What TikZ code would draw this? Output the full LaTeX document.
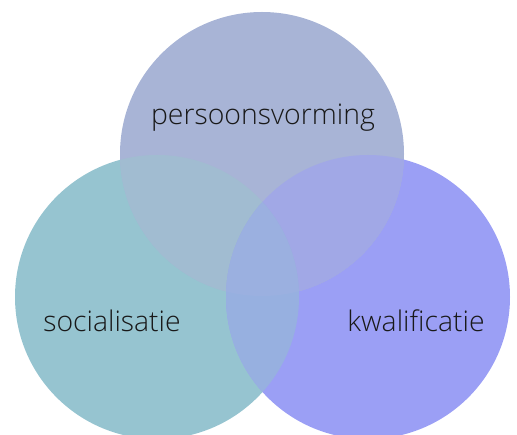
\documentclass[tikz,border=0pt]{standalone}
\usepackage{fontspec}
\setmainfont{Open Sans Light}
\usepackage{tikz}
\usetikzlibrary{positioning}
\definecolor{persoonblue}{RGB}{168,180,214}
\definecolor{socialteal}{RGB}{150,196,208}
\definecolor{kwalipurple}{RGB}{155,159,245}
\definecolor{persoonsocial}{RGB}{161,188,209}
\definecolor{persoonkwali}{RGB}{161,168,230}
\definecolor{socialkwali}{RGB}{151,176,224}
\definecolor{allthree}{RGB}{155,176,224}
\tikzset{
  venn/.style={circle, minimum size=284pt, inner sep=0pt},
  label text/.style={text=black!90, font=\fontsize{28.4}{33}\selectfont}
}

\begin{document}
\begin{tikzpicture}[x=1pt, y=-1pt]
            \clip (0,0) rectangle (517,435);
            \useasboundingbox (0,0) rectangle (517,435);
            % the three circles
            \node[venn, fill=socialteal] (social) at (157,297) {};
            \node[venn, fill=kwalipurple] (kwali) at (368,297) {};
            \node[venn, fill=persoonblue] (persoon) at (262,154) {};
            % overlaps
            \begin{scope}
              \clip (persoon.center) circle (142pt);
              \fill[persoonsocial] (social.center) circle (142pt);
              \fill[persoonkwali] (kwali.center) circle (142pt);
            \end{scope}
            \begin{scope}
              \clip (social.center) circle (142pt);
              \fill[socialkwali] (kwali.center) circle (142pt);
              \clip (persoon.center) circle (142pt);
              \fill[allthree] (kwali.center) circle (142pt);
            \end{scope}
            % labels
            \node[label text] (persoontxt) at (263,118) {persoonsvorming};
            \node[label text] (socialtxt) at (112,320.5) {socialisatie};
            \node[label text] (kwalitxt) at (416,320.5) {kwalificatie};
        \end{tikzpicture}
\end{document}
